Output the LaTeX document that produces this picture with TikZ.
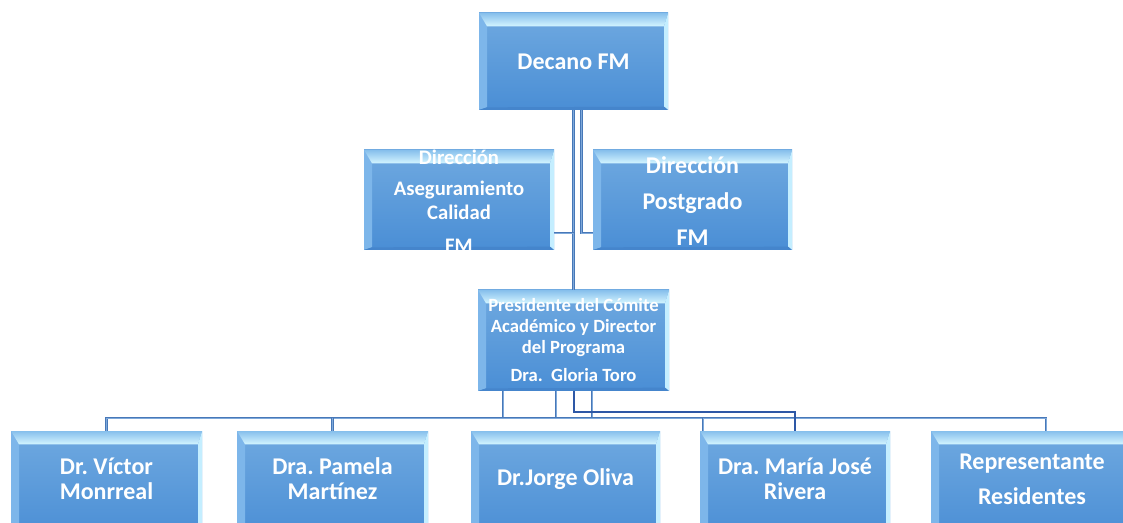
\documentclass[tikz,border=0pt]{standalone}
\usepackage{fontspec}
\setmainfont{Carlito}
\frenchspacing
\usetikzlibrary{calc}
\definecolor{face1}{HTML}{6FA9E0}
\definecolor{face2}{HTML}{4A8ED5}
\definecolor{bevtop1}{HTML}{86BFEC}
\definecolor{bevtop2}{HTML}{D4F5FF}
\definecolor{bevleft}{HTML}{7DB6EA}
\definecolor{bevright}{HTML}{C4EEFF}
\definecolor{bevbot}{HTML}{4585CC}
\definecolor{conncol}{HTML}{4878B8}
\definecolor{connlight}{HTML}{7FA9DA}
\definecolor{conndark}{HTML}{2E58A6}
\tikzset{
  box/.style 2 args={rectangle, draw=none, minimum width=#1*0.75pt, minimum height=#2*0.75pt,
    inner sep=0pt, top color=face1, bottom color=face2,
    path picture={
      \coordinate (nw) at (path picture bounding box.north west);
      \coordinate (ne) at (path picture bounding box.north east);
      \coordinate (sw) at (path picture bounding box.south west);
      \coordinate (se) at (path picture bounding box.south east);
      \fill[bevleft] (nw) -- ($(nw)+(6pt,-10pt)$) -- ($(sw)+(6pt,2pt)$) -- (sw) -- cycle;
      \fill[bevright] (ne) -- ($(ne)+(-3pt,-10pt)$) -- ($(se)+(-3pt,2.5pt)$) -- (se) -- cycle;
      \fill[bevbot] (sw) -- ($(sw)+(6pt,2pt)$) -- ($(se)+(-3pt,2.5pt)$) -- (se) -- cycle;
      \shade[top color=bevtop1, bottom color=bevtop2] (nw) -- (ne) -- ($(ne)+(-3pt,-10pt)$) -- ($(nw)+(6pt,-10pt)$) -- cycle;
    }},
  txt/.style={text=white, align=center, inner sep=0pt},
  fs/.style 2 args={font=\bfseries\fontsize{#1}{#2}\selectfont},
  conn/.style={draw=conncol, line width=0.75pt, double=connlight, double distance=0.7pt},
  darkconn/.style={draw=conndark, line width=1.5pt}
}
\begin{document}
\begin{tikzpicture}[x=0.75pt,y=-0.75pt]
\useasboundingbox (0,0) rectangle (1123,523);
\clip (0,0) rectangle (1123,523);
% boxes
\node[box={189}{97}]  (dec)  at (573.5,61.5) {};
\node[box={190}{100}] (ase)  at (459,200) {};
\node[box={199}{100}] (pos)  at (692.5,200) {};
\node[box={191}{101}] (pres) at (573.5,340.5) {};
\node[box={191}{108}] (vic)  at (106.5,485) {};
\node[box={191}{108}] (pam)  at (332.5,485) {};
\node[box={189}{108}] (jor)  at (565.5,485) {};
\node[box={190}{108}] (mar)  at (795,485) {};
\node[box={202}{108}] (rep)  at (1032,485) {};
% texts
\node[txt, fs={18}{21}] (dec-t) at (dec) {Decano FM};
\node[txt, fs={15.5}{18}] (ase-t) at (459,201) {Dirección\\[5.25pt]Aseguramiento\\Calidad\\[6.75pt]FM};
\node[txt, fs={18}{27}] (pos-t) at (692.5,201) {Dirección\\Postgrado\\FM};
\node[txt, fs={14}{15.75}] (pres-t) at (573.5,340) {Presidente del Cómite\\Académico y Director\\del Programa\\[5.25pt]Dra.~ Gloria Toro};
\node[txt, fs={18}{18.75}] (vic-t) at ([yshift=4.5pt]vic.center) {Dr. Víctor\\Monrreal};
\node[txt, fs={18}{18.75}] (pam-t) at ([yshift=4.5pt]pam.center) {Dra. Pamela\\Martínez};
\node[txt, fs={18}{21}] (jor-t) at ([yshift=4.5pt]jor.center) {Dr.Jorge Oliva};
\node[txt, fs={18}{18.75}] (mar-t) at ([yshift=4.5pt]mar.center) {Dra. María José\\Rivera};
\node[txt, fs={18}{26.25}] (rep-t) at ([yshift=4pt]rep.center) {Representante\\Residentes};
% upper connectors
\coordinate (ja) at (573.5,233);
\draw[conn] (dec.south) -- (pres.north);
\draw[conn] ([xshift=6pt]dec.south) |- (pos.west |- ja);
\draw[conn] (ase.east |- ja) -- (ja);
% lower connectors
\coordinate (d1) at (503,418);
\coordinate (d2) at (556,418);
\coordinate (d3) at (592,418);
\coordinate (d4) at (703,418);
\coordinate (d5) at (1046,418);
\coordinate (dk) at (573.5,412);
\draw[conn] (pres.south -| d1) -- (d1);
\draw[conn] (pres.south -| d2) -- (d2);
\draw[conn] (pres.south -| d3) -- (d3);
\draw[conn] (vic.north) |- (d5) -- (d5 |- rep.north);
\draw[conn] (pam.north |- d1) -- (pam.north);
\draw[conn] (d4) -- (d4 |- mar.north);
\draw[darkconn] (pres.south -| dk) -- (dk) -| (mar.north);
\end{tikzpicture}
\end{document}
